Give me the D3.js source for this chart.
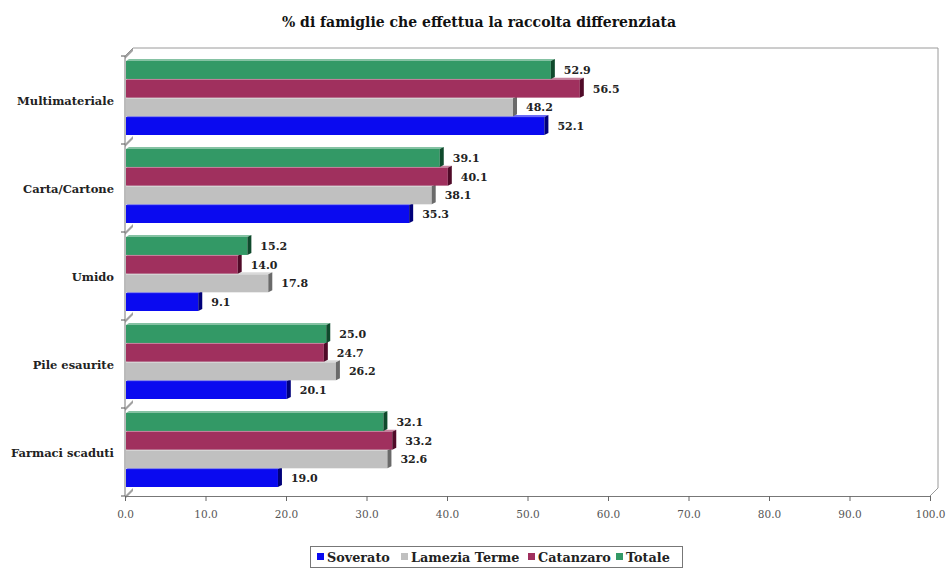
<!DOCTYPE html>
<html><head><meta charset="utf-8">
<script src="https://cdn.jsdelivr.net/npm/d3@7"></script>
<style>body{margin:0;background:#fff;} svg{display:block;}</style>
</head><body>
<svg id="c" width="947" height="572"></svg>
<script>
const title = "% di famiglie che effettua la raccolta differenziata";
const categories = ["Multimateriale","Carta/Cartone","Umido","Pile esaurite","Farmaci scaduti"];
const seriesNames = ["Soverato","Lamezia Terme","Catanzaro","Totale"];
const soverato = [52.1, 35.3, 9.1, 20.1, 19.0];
const lamezia  = [48.2, 38.1, 17.8, 26.2, 32.6];
const catanzaro= [56.5, 40.1, 14.0, 24.7, 33.2];
const totale   = [52.9, 39.1, 15.2, 25.0, 32.1];
const xTicks = [0,10,20,30,40,50,60,70,80,90,100];
const colors = ["#0a0af0","#c0c0c0","#a0305e","#339966"];
const darkColors = ["#00007a","#6a6a6a","#500a28","#0f4a2c"];

const values = [soverato, lamezia, catanzaro, totale];
const svg = d3.select("#c");
const serif = "DejaVu Serif";
const depth = 8;

const x = d3.scaleLinear().domain([0,100]).range([125,930]);
const y = d3.scaleBand().domain(categories).range([56,496]);
const sub = d3.scaleBand().domain(seriesNames.slice().reverse()).range([5,79]).paddingInner(0.04);

svg.append("text").attr("x",479).attr("y",27).attr("text-anchor","middle")
  .attr("font-family",serif).attr("font-weight","bold").attr("font-size","14px").attr("fill","#111").text(title);

const fr = svg.append("g").attr("fill","none").attr("stroke","#9a9a9a").attr("stroke-width",1);
fr.append("path").attr("d",`M${x(0)},${y.range()[0]}L${x(0)+depth},${y.range()[0]-depth}L${x(100)+depth},${y.range()[0]-depth}L${x(100)+depth},${y.range()[1]-depth}L${x(100)},${y.range()[1]}`);
fr.append("line").attr("x1",x(0)).attr("x2",x(0)).attr("y1",y.range()[0]).attr("y2",y.range()[1]).attr("stroke","#777");

const bounds = categories.map(c=>y(c)).concat([y.range()[1]]);
svg.append("g").selectAll("path").data(bounds).join("path")
  .attr("d",b=>`M${x(0)},${b}L${x(0)+depth},${b-depth}L${x(0)+depth},${b-depth+3}L${x(0)},${b+3}Z`)
  .attr("fill","#8a8a8a").attr("opacity",0.8);
svg.append("g").selectAll("line").data(bounds).join("line")
  .attr("x1",x(0)-4).attr("x2",x(0)).attr("y1",b=>b).attr("y2",b=>b).attr("stroke","#555");

const data = [];
categories.forEach((c,i)=>seriesNames.forEach((s,j)=>data.push({c, s, j, v: values[j][i]})));
const bars = svg.append("g");
data.forEach(d=>{
  const y0 = y(d.c)+sub(d.s), h = sub.bandwidth(), x1 = x(d.v);
  bars.append("rect").attr("x",x(0)+1).attr("y",y0).attr("width",x1-x(0)-1).attr("height",h).attr("fill",colors[d.j]);
  bars.append("path").attr("d",`M${x(0)+1},${y0}L${x(0)+4},${y0-2}L${x1+4},${y0-2}L${x1},${y0}Z`).attr("fill",colors[d.j]).attr("opacity",0.6);
  bars.append("path").attr("d",`M${x1},${y0}L${x1+4},${y0-2}L${x1+4},${y0+h-2}L${x1},${y0+h}Z`).attr("fill",darkColors[d.j]);
  const lx = x1+13;
  bars.append("rect").attr("x",lx-3).attr("y",y0+h/2-7).attr("width",31).attr("height",14).attr("fill","#fff");
  bars.append("text").attr("x",lx).attr("y",y0+h/2+4).attr("font-family",serif).attr("font-weight","bold")
    .attr("font-size","11px").attr("fill","#222").text(d3.format(".1f")(d.v));
});

svg.append("g").selectAll("text").data(categories).join("text")
  .attr("x",114).attr("y",c=>y(c)+y.bandwidth()/2+4.5).attr("text-anchor","end")
  .attr("font-family",serif).attr("font-weight","bold").attr("font-size","11.5px").attr("fill","#222").text(c=>c);

const xa = svg.append("g").attr("transform",`translate(0,${y.range()[1]})`)
  .call(d3.axisBottom(x).tickValues(xTicks).tickFormat(d3.format(".1f")).tickSize(5).tickPadding(10));
xa.select(".domain").attr("stroke","#777");
xa.selectAll("line").attr("stroke","#666");
xa.selectAll("text").attr("font-family",serif).attr("font-size","10.5px").attr("fill","#555");

const lg = svg.append("g");
lg.append("rect").attr("x",310.5).attr("y",546.5).attr("width",372).attr("height",21).attr("fill","#fff").attr("stroke","#777");
const lx = [317, 401, 528, 616];
seriesNames.forEach((s,i)=>{
  lg.append("rect").attr("x",lx[i]).attr("y",553).attr("width",7).attr("height",7).attr("fill",colors[i]);
  lg.append("text").attr("x",lx[i]+10).attr("y",561.5).attr("font-family",serif).attr("font-weight","bold")
    .attr("font-size","12.8px").attr("fill","#222").text(s);
});
</script>
</body></html>
